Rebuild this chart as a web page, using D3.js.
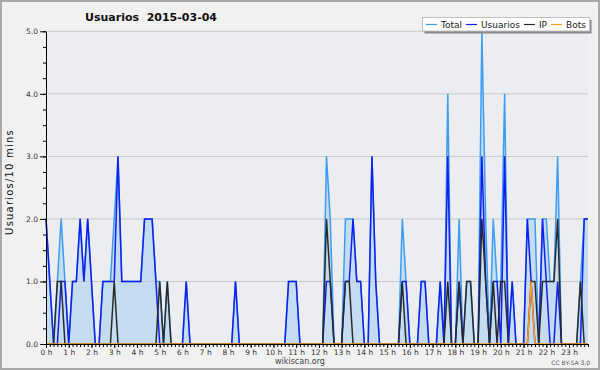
<!DOCTYPE html>
<html>
<head>
<meta charset="utf-8">
<script src="https://cdn.jsdelivr.net/npm/d3@7"></script>
<style>
  body { margin: 0; background: #f1f1f1; }
  svg { display: block; font-family: "DejaVu Sans", sans-serif; }
</style>
</head>
<body>
<svg id="chart" width="600" height="370"></svg>
<script>
// one value per 10 minutes, 00:00 -> 23:50
const usuarios = [
  2,1,0,0,1,1,0,1,1,2,1,2,
  1,0,0,1,1,1,1,3,1,1,1,1,
  1,1,2,2,2,1,0,0,0,0,0,0,
  0,1,0,0,0,0,0,0,0,0,0,0,
  0,0,1,0,0,0,0,0,0,0,0,0,
  0,0,0,0,1,1,1,0,0,0,0,0,
  0,0,1,1,0,0,0,1,1,2,1,1,
  0,0,3,1,0,0,0,0,0,0,1,1,
  0,0,0,1,1,0,0,0,1,0,3,0,
  0,1,0,0,0,0,0,3,1,0,1,1,
  0,3,0,1,0,0,0,2,1,0,0,2,
  1,0,0,1,0,0,0,0,0,0,2,2
];
const ip = [
  0,0,0,1,1,0,0,0,0,0,0,0,
  0,0,0,0,0,0,1,0,0,0,0,0,
  0,0,0,0,0,0,1,0,1,0,0,0,
  0,0,0,0,0,0,0,0,0,0,0,0,
  0,0,0,0,0,0,0,0,0,0,0,0,
  0,0,0,0,0,0,0,0,0,0,0,0,
  0,0,2,1,0,0,0,1,1,0,0,0,
  0,0,0,0,0,0,0,0,0,0,1,0,
  0,0,0,0,0,0,0,0,0,0,1,0,
  0,1,0,1,1,0,0,2,1,0,1,0,
  1,1,0,0,0,0,0,0,1,1,0,1,
  1,1,1,2,0,0,0,0,0,1,0,0
];
const bots = [
  0,0,0,0,0,0,0,0,0,0,0,0,
  0,0,0,0,0,0,0,0,0,0,0,0,
  0,0,0,0,0,0,0,0,0,0,0,0,
  0,0,0,0,0,0,0,0,0,0,0,0,
  0,0,0,0,0,0,0,0,0,0,0,0,
  0,0,0,0,0,0,0,0,0,0,0,0,
  0,0,0,0,0,0,0,0,0,0,0,0,
  0,0,0,0,0,0,0,0,0,0,0,0,
  0,0,0,0,0,0,0,0,0,0,0,0,
  0,0,0,0,0,0,0,0,0,0,0,0,
  0,0,0,0,0,0,0,0,1,0,0,0,
  0,0,0,0,0,0,0,0,0,0,0,0
];
const total = [
  2,1,0,1,2,1,0,1,1,2,1,2,
  1,0,0,1,1,1,2,3,1,1,1,1,
  1,1,2,2,2,1,1,0,1,0,0,0,
  0,1,0,0,0,0,0,0,0,0,0,0,
  0,0,1,0,0,0,0,0,0,0,0,0,
  0,0,0,0,1,1,1,0,0,0,0,0,
  0,0,3,2,0,0,0,2,2,2,1,1,
  0,0,3,1,0,0,0,0,0,0,2,1,
  0,0,0,1,1,0,0,0,1,0,4,0,
  0,2,0,1,1,0,0,5,2,0,2,1,
  1,4,0,1,0,0,0,2,2,2,0,2,
  2,1,1,3,0,0,0,0,0,1,2,2
];
const hourLabels = ["0 h","1 h","2 h","3 h","4 h","5 h","6 h","7 h","8 h","9 h","10 h","11 h",
  "12 h","13 h","14 h","15 h","16 h","17 h","18 h","19 h","20 h","21 h","22 h","23 h"];
const yTicks = [0, 1, 2, 3, 4, 5];
const yTickLabels = ["0.0", "1.0", "2.0", "3.0", "4.0", "5.0"];
const seriesNames = ["Total", "Usuarios", "IP", "Bots"];

const colors = { Total: "#3d9df2", Usuarios: "#1020f0", IP: "#2a2a2a", Bots: "#ff9a1a" };
const seriesValues = { Total: total, Usuarios: usuarios, IP: ip, Bots: bots };

const svg = d3.select("#chart");
const plotLeft = 46, plotRight = 588, plotTop = 31.3, plotBottom = 344;

// frame
svg.append("rect").attr("x", 1).attr("y", 1).attr("width", 598).attr("height", 368)
  .attr("fill", "#f1f1f1").attr("stroke", "#a8a8a8").attr("stroke-width", 2);
svg.append("rect").attr("x", plotLeft).attr("y", plotTop)
  .attr("width", plotRight - plotLeft).attr("height", plotBottom - plotTop)
  .attr("fill", "#ecedf0");

const x = d3.scaleLinear().domain([0, total.length - 1]).range([plotLeft, plotRight]);
const y = d3.scaleLinear().domain([0, 5]).range([plotBottom, plotTop]);

// area under total
svg.append("path")
  .datum(total)
  .attr("d", d3.area().x((d, i) => x(i)).y0(y(0)).y1(d => y(d)))
  .attr("fill", "#c5dbf0");

// grid
svg.append("g").selectAll("line")
  .data(yTicks.slice(1))
  .enter().append("line")
  .attr("x1", plotLeft).attr("x2", plotRight)
  .attr("y1", d => y(d)).attr("y2", d => y(d))
  .attr("stroke", "#c8c8c8").attr("stroke-width", 1);

// series lines
seriesNames.forEach(name => {
  svg.append("path")
    .datum(seriesValues[name])
    .attr("d", d3.line().x((d, i) => x(i)).y(d => y(d)))
    .attr("fill", "none")
    .attr("stroke", colors[name])
    .attr("stroke-width", 1.5);
});

// y axis
svg.append("g")
  .attr("transform", "translate(" + plotLeft + ",0)")
  .call(d3.axisLeft(y).tickValues(d3.range(0, 5.01, 0.25)).tickSize(3).tickFormat("").tickSizeOuter(0))
  .call(g => g.selectAll("path,line").attr("stroke", "#000"));
svg.append("g")
  .attr("transform", "translate(" + plotLeft + ",0)")
  .call(d3.axisLeft(y).tickValues(yTicks).tickSize(6).tickPadding(2)
    .tickFormat((d, i) => yTickLabels[i]))
  .call(g => g.select(".domain").remove())
  .call(g => g.selectAll("line").attr("stroke", "#000"))
  .call(g => g.selectAll("text").attr("font-family", "DejaVu Sans").attr("font-size", 7.5).attr("fill", "#333"));

// x axis
svg.append("g")
  .attr("transform", "translate(0," + plotBottom + ")")
  .call(d3.axisBottom(x).tickValues(d3.range(0, total.length)).tickSize(3).tickFormat("").tickSizeOuter(0))
  .call(g => g.selectAll("path,line").attr("stroke", "#000"));
svg.append("g")
  .attr("transform", "translate(0," + plotBottom + ")")
  .call(d3.axisBottom(x).tickValues(d3.range(0, total.length, 6)).tickSize(4).tickPadding(2)
    .tickFormat((d, i) => hourLabels[i]))
  .call(g => g.select(".domain").remove())
  .call(g => g.selectAll("line").attr("stroke", "#000"))
  .call(g => g.selectAll("text").attr("font-family", "DejaVu Sans").attr("font-size", 7.5).attr("fill", "#333"));

// title and texts
svg.append("text").attr("x", 151).attr("y", 21).attr("text-anchor", "middle")
  .attr("font-size", 11).attr("font-weight", "bold").attr("fill", "#111")
  .style("white-space", "pre").text("Usuarios  2015-03-04");
svg.append("text").attr("transform", "translate(13,182) rotate(-90)").attr("text-anchor", "middle")
  .attr("font-size", 10).attr("letter-spacing", 1.2).attr("fill", "#111").text("Usuarios/10 mins");
svg.append("text").attr("x", 300).attr("y", 364).attr("text-anchor", "middle")
  .attr("font-size", 8).attr("fill", "#444").text("wikiscan.org");
svg.append("text").attr("x", 590).attr("y", 365).attr("text-anchor", "end")
  .attr("font-size", 6).attr("fill", "#555").text("CC BY-SA 3.0");

// legend
const lg = svg.append("g");
lg.append("rect").attr("x", 424.5).attr("y", 20).attr("width", 167).attr("height", 13.5).attr("fill", "#888");
lg.append("rect").attr("x", 422.5).attr("y", 17.5).attr("width", 167).attr("height", 13.5)
  .attr("fill", "#fff").attr("stroke", "#c0c0c0");
let cx = 426;
seriesNames.forEach(name => {
  lg.append("line").attr("x1", cx).attr("x2", cx + 11).attr("y1", 24.5).attr("y2", 24.5)
    .attr("stroke", colors[name]).attr("stroke-width", 1.2);
  const t = lg.append("text").attr("x", cx + 15).attr("y", 28).attr("font-size", 9).attr("fill", "#222").text(name);
  cx += 15 + t.node().getComputedTextLength() + 4;
});
</script>
</body>
</html>
